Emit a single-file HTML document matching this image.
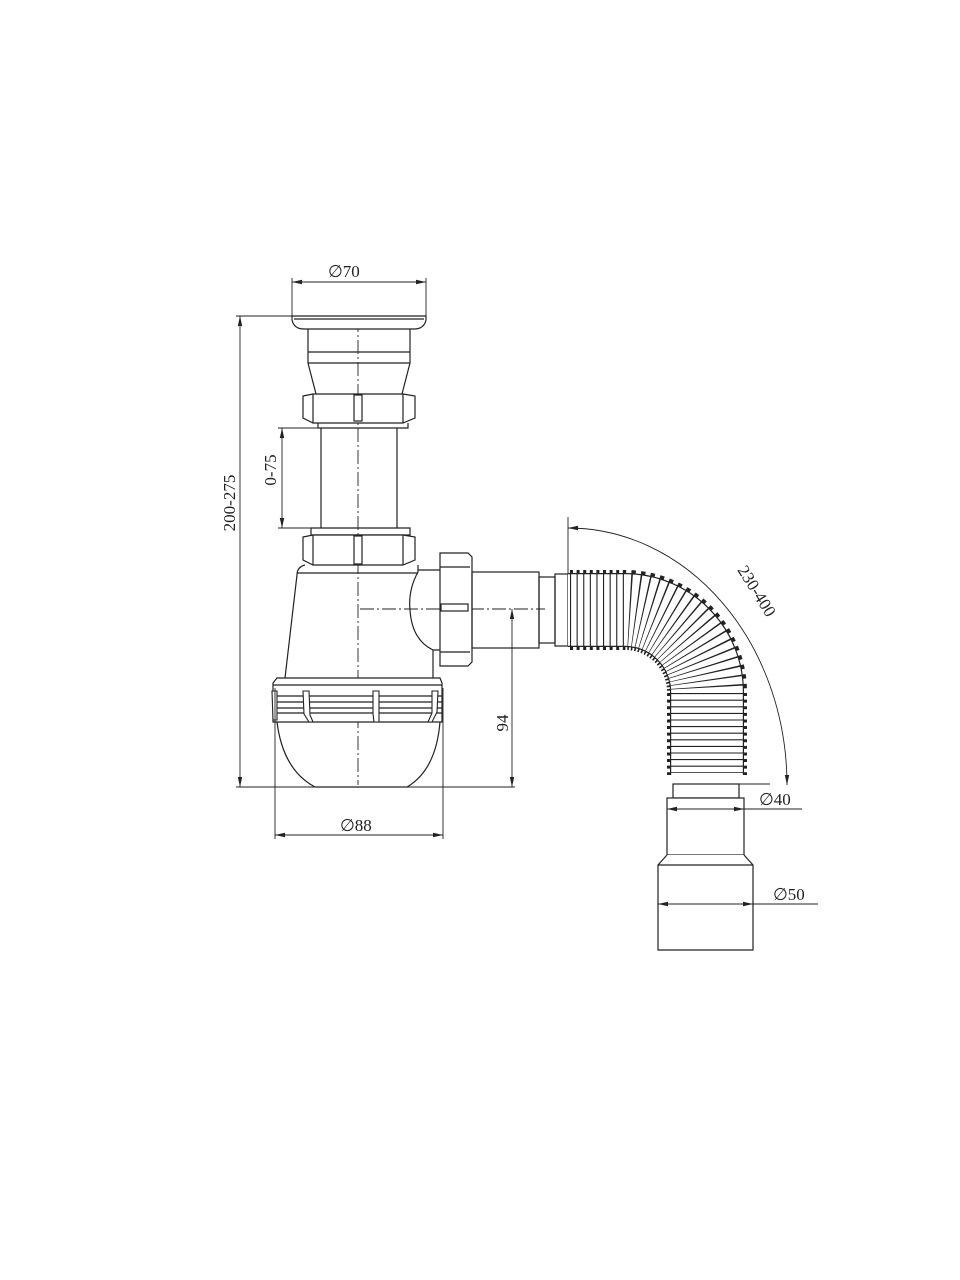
<!DOCTYPE html>
<html><head><meta charset="utf-8"><style>
html,body{margin:0;padding:0;background:#fff}
svg{display:block}
text{font-family:"Liberation Serif",serif;fill:#222}
</style></head><body>
<svg width="960" height="1280" viewBox="0 0 960 1280" xmlns="http://www.w3.org/2000/svg">
<defs>
<marker id="a" viewBox="0 0 10 6" refX="10" refY="3" markerWidth="10" markerHeight="6" orient="auto-start-reverse" markerUnits="userSpaceOnUse"><path d="M0,0.8 L10,3 L0,5.2 Z" fill="#222"/></marker>
</defs>
<g fill="none" stroke="#222" stroke-width="1.2">
<line x1="358" y1="318" x2="358" y2="785" stroke-dasharray="14 3 2 3" stroke-width="0.9"/>
<line x1="360" y1="609" x2="545" y2="609" stroke-dasharray="14 3 2 3" stroke-width="0.9"/>
<path d="M292,316 L426,316 L426,320 Q424,329 414,329 L304,329 Q294,329 292,320 Z" fill="#fff"/>
<line x1="294" y1="319" x2="424" y2="319"/>
<path d="M308,329 L308,363 L316,394 M410,329 L410,363 L402,394"/>
<line x1="308" y1="352" x2="410" y2="352"/>
<line x1="308" y1="363" x2="410" y2="363"/>
<path d="M303,396 L313,394 L403,394 L415,396 L415,418 L403,423 L313,423 L303,418 Z" fill="#fff"/>
<line x1="313" y1="394" x2="313" y2="423"/><line x1="403" y1="394" x2="403" y2="423"/>
<rect x="354" y="395" width="8" height="26"/>
<path d="M318,423 L318,428 L408,428 L408,423"/>
<path d="M321,428 L321,528 M397,428 L397,528"/>
<path d="M311,528 L410,528 L410,535 L311,535 Z"/>
<path d="M303,537 L313,535 L403,535 L415,537 L415,560 L403,565 L313,565 L303,560 Z" fill="#fff"/>
<line x1="313" y1="535" x2="313" y2="565"/><line x1="403" y1="535" x2="403" y2="565"/>
<rect x="354" y="536" width="8" height="28"/>
<path d="M305,565 Q297,567 297,575 L285,678 M418,565 L418,572 Q408,590 410,610 Q412,640 433,650 L433,678"/>
<line x1="297" y1="573" x2="418" y2="573"/>
<path d="M418,570 L440,570 M433,650 L440,650"/>
<path d="M440,553 L468,553 L472,557 L472,662 L468,666 L440,666 Z" fill="#fff"/>
<line x1="440" y1="567" x2="470" y2="567"/><line x1="440" y1="652" x2="470" y2="652"/>
<rect x="441" y="604" width="27" height="7"/>
<rect x="472" y="572" width="67" height="76"/>
<rect x="539" y="577" width="16" height="66"/>
<rect x="555" y="574" width="13" height="72"/>
<path d="M273,683 L277,678 L440,678 L442,683 L442,722 L273,722 Z" fill="#fff"/>
<line x1="273" y1="685" x2="442" y2="685"/>
<line x1="273" y1="696" x2="442" y2="696"/>
<line x1="273" y1="702" x2="442" y2="702"/>
<line x1="273" y1="708" x2="442" y2="708"/>
<line x1="273" y1="713" x2="442" y2="713"/>
<g fill="#fff" stroke-width="1.1">
<path d="M303,691 L309,691 L310,715 L313,722 L309,722 L304,714 Z"/>
<path d="M373,691 L379,691 L379,722 L374,722 L373,714 Z"/>
<path d="M432,691 L438,691 L437,712 L432,722 L428,722 L432,713 Z"/>
<path d="M272,691 L277,691 L277,720 L273,720 Z"/>
</g>
<path d="M277,722 Q283,770 315,787 L407,787 Q436,770 440,722"/>
<!-- hose -->
<path d="M570,610 L625,610 A82,82 0 0 1 707,692 L707,775" stroke="#222" stroke-width="80" stroke-dasharray="3 3.6"/>
<path d="M568,610 L625,610 A82,82 0 0 1 707,692 L707,775" stroke="#222" stroke-width="74"/>
<path d="M568,610 L625,610 A82,82 0 0 1 707,692 L707,775" stroke="#fff" stroke-width="71.6"/>
<path d="M570,610 L625,610 A82,82 0 0 1 707,692 L707,773" stroke="#222" stroke-width="72" stroke-dasharray="1.1 5.5"/>
<rect x="673" y="784" width="66" height="14" fill="#fff"/>
<rect x="667" y="798" width="77" height="57" fill="#fff"/>
<path d="M667,855 L658,865 L658,950 L753,950 L753,865 L744,855" fill="#fff"/>
<line x1="658" y1="865" x2="753" y2="865"/>
</g>
<g fill="none" stroke="#222" stroke-width="0.9">
<line x1="292" y1="278" x2="292" y2="316"/><line x1="426" y1="278" x2="426" y2="316"/>
<line x1="292" y1="282" x2="426" y2="282" marker-start="url(#a)" marker-end="url(#a)"/>
<line x1="236" y1="316" x2="292" y2="316"/>
<line x1="240" y1="316" x2="240" y2="787" marker-start="url(#a)" marker-end="url(#a)"/>
<line x1="236" y1="787" x2="515" y2="787"/>
<line x1="278" y1="428" x2="321" y2="428"/><line x1="278" y1="528" x2="321" y2="528"/>
<line x1="282" y1="428" x2="282" y2="528" marker-start="url(#a)" marker-end="url(#a)"/>
<line x1="512" y1="609" x2="512" y2="787" marker-start="url(#a)" marker-end="url(#a)"/>
<line x1="275" y1="688" x2="275" y2="839"/><line x1="443" y1="688" x2="443" y2="839"/>
<line x1="275" y1="835" x2="443" y2="835" marker-start="url(#a)" marker-end="url(#a)"/>
<line x1="568" y1="517" x2="568" y2="574"/>
<path d="M568,528 A219,257 0 0 1 787,785" marker-start="url(#a)" marker-end="url(#a)"/>
<line x1="739" y1="784" x2="770" y2="784"/>
<line x1="667" y1="809" x2="744" y2="809" marker-start="url(#a)" marker-end="url(#a)"/>
<line x1="744" y1="809" x2="802" y2="809"/>
<line x1="658" y1="904" x2="753" y2="904" marker-start="url(#a)" marker-end="url(#a)"/>
<line x1="753" y1="904" x2="818" y2="904"/>
</g>
<g font-size="17">
<text x="328" y="277">∅70</text>
<text x="340" y="831">∅88</text>
<text x="759" y="805">∅40</text>
<text x="773" y="900">∅50</text>
<text transform="translate(235,503) rotate(-90)" text-anchor="middle">200-275</text>
<text transform="translate(276,470) rotate(-90)" text-anchor="middle">0-75</text>
<text transform="translate(508,723) rotate(-90)" text-anchor="middle">94</text>
<text transform="translate(752,594) rotate(58)" text-anchor="middle">230-400</text>
</g>
</svg>
</body></html>
